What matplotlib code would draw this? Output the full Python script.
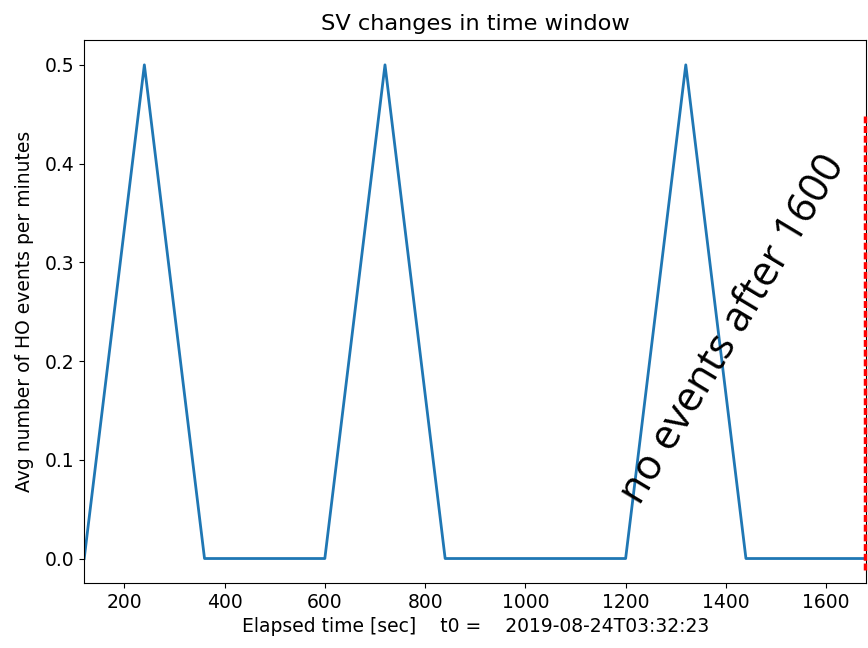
import matplotlib.pyplot as plt
from matplotlib.lines import Line2D

elapsed = [120, 240, 360, 480, 600, 720, 840, 960, 1080, 1200, 1320, 1440, 1560, 1680]
avg_events = [0.0, 0.5, 0.0, 0.0, 0.0, 0.5, 0.0, 0.0, 0.0, 0.0, 0.5, 0.0, 0.0, 0.0]
t0 = "2019-08-24T03:32:23"
note = "no events after 1600"

plt.rcParams["font.size"] = 13.5

fig = plt.figure(figsize=(8.68, 6.48), dpi=100)
ax = fig.add_axes([0.097, 0.100, 0.901, 0.838])

ax.plot(elapsed, avg_events, color="#1f77b4", linewidth=2.0)
ax.set_xlim(min(elapsed), max(elapsed))
ax.set_xticks(range(200, 1700, 200))
ax.set_title("SV changes in time window", fontsize=16.2, pad=7)
ax.set_xlabel("Elapsed time [sec]    t0 =    " + t0, fontsize=13.5)
ax.set_ylabel("Avg number of HO events per minutes", fontsize=13.5, labelpad=8)

# overlay annotation (red dashed box edge + rotated note)
fig.add_artist(Line2D([0.9965, 0.9965], [1 - 570 / 648, 1 - 116 / 648],
                      transform=fig.transFigure, color="red",
                      linestyle=(0, (2, 0.8)), linewidth=2.5))
fig.text(0.845, 0.492, note, rotation=59, fontsize=30, family="Open Sans",
         ha="center", va="center")

fig.savefig("out.png", dpi=100)
